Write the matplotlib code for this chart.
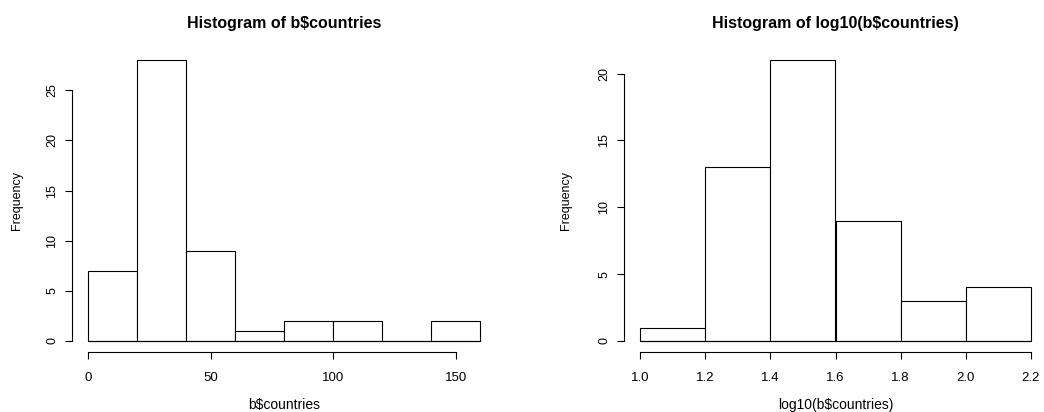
import matplotlib
matplotlib.use("Agg")
import matplotlib.pyplot as plt
import numpy as np

plt.rcParams['font.family'] = ['Liberation Sans', 'DejaVu Sans']

# left histogram: raw counts
edges_raw = [0, 20, 40, 60, 80, 100, 120, 140, 160]
counts_raw = [7, 28, 9, 1, 2, 2, 0, 2]
xticks_raw = [0, 50, 100, 150]
yticks_raw = [0, 5, 10, 15, 20, 25]

# right histogram: log10 counts
edges_log = [1.0, 1.2, 1.4, 1.6, 1.8, 2.0, 2.2]
counts_log = [1, 13, 21, 9, 3, 4]
xticks_log = [1.0, 1.2, 1.4, 1.6, 1.8, 2.0, 2.2]
yticks_log = [0, 5, 10, 15, 20]

fig = plt.figure(figsize=(10.44, 4.12), dpi=100)
W, H = 1044, 412


def r_hist(ax, edges, counts, xticks, yticks, title, xlabel):
    edges = np.asarray(edges, dtype=float)
    ax.bar(edges[:-1], counts, width=np.diff(edges), align='edge',
           color='white', edgecolor='black', linewidth=0.8)
    # empty bins still show their bottom edge in R
    ax.plot([edges[0], edges[-1]], [0, 0], color='black', lw=0.8)
    # R pads the range by 4% on each side
    xr = edges[-1] - edges[0]
    yr = max(counts)
    ax.set_xlim(edges[0] - 0.04 * xr, edges[-1] + 0.04 * xr)
    ax.set_ylim(-0.04 * yr, yr * 1.04)
    for s in ['top', 'right']:
        ax.spines[s].set_visible(False)
    ax.spines['left'].set_bounds(yticks[0], yticks[-1])
    ax.spines['bottom'].set_bounds(xticks[0], xticks[-1])
    for s in ['left', 'bottom']:
        ax.spines[s].set_linewidth(0.8)
    ax.set_xticks(xticks)
    ax.set_yticks(yticks)
    if isinstance(xticks[0], float):
        ax.set_xticklabels([f"{t:.1f}" for t in xticks])
    ax.set_yticklabels([str(t) for t in yticks], rotation=90, va='center')
    ax.tick_params(length=5, width=0.8)
    ax.tick_params(axis='x', labelsize=9.5, pad=9)
    ax.tick_params(axis='y', labelsize=9, pad=5)
    ax.set_title(title, fontsize=11.5, fontweight='bold', pad=15)
    ax.set_xlabel(xlabel, fontsize=10)
    ax.set_ylabel('Frequency', fontsize=9)
    ax.xaxis.set_label_coords(0.5, -0.15)


ax1 = fig.add_axes([72.3 / W, 1 - 352.2 / H, 423.7 / W, 303.2 / H])
r_hist(ax1, edges_raw, counts_raw, xticks_raw, yticks_raw,
       'Histogram of b$countries', 'b$countries')
ax1.yaxis.set_label_coords(-0.116, 0.5)

ax2 = fig.add_axes([624.4 / W, 1 - 352.2 / H, 422.2 / W, 303.2 / H])
r_hist(ax2, edges_log, counts_log, xticks_log, yticks_log,
       'Histogram of log10(b$countries)', 'log10(b$countries)')
ax2.yaxis.set_label_coords(-0.123, 0.5)

fig.savefig('out.png', dpi=100)
